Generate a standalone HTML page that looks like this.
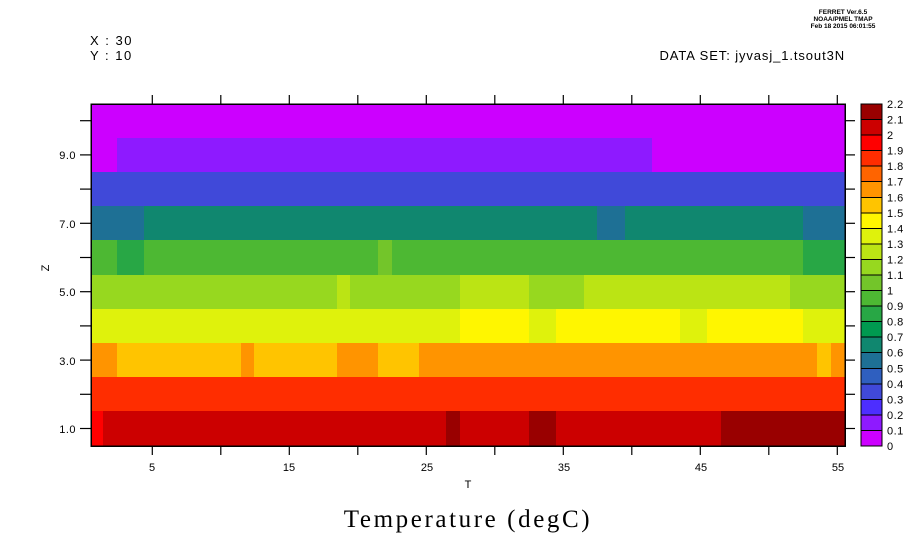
<!DOCTYPE html>
<html><head><meta charset="utf-8"><style>body{margin:0;background:#fff}svg{display:block}</style></head><body>
<svg width="921" height="552" xmlns="http://www.w3.org/2000/svg" font-family="Liberation Sans, sans-serif">
<rect width="921" height="552" fill="#fff"/>
<g shape-rendering="crispEdges">
<rect x="91" y="104" width="754" height="35" fill="#cc00ff"/>
<rect x="91" y="138" width="754" height="35" fill="#cc00ff"/>
<rect x="117" y="138" width="535" height="35" fill="#8e1aff"/>
<rect x="91" y="172" width="754" height="35" fill="#4049d9"/>
<rect x="91" y="206" width="754" height="35" fill="#10876f"/>
<rect x="91" y="206" width="53" height="35" fill="#1e7095"/>
<rect x="597" y="206" width="28" height="35" fill="#1e7095"/>
<rect x="803" y="206" width="42" height="35" fill="#1e7095"/>
<rect x="91" y="240" width="754" height="35" fill="#4db833"/>
<rect x="117" y="240" width="27" height="35" fill="#28a745"/>
<rect x="378" y="240" width="14" height="35" fill="#73c52a"/>
<rect x="803" y="240" width="42" height="35" fill="#28a745"/>
<rect x="91" y="275" width="754" height="35" fill="#97d81f"/>
<rect x="337" y="275" width="13" height="35" fill="#bbe414"/>
<rect x="460" y="275" width="69" height="35" fill="#bbe414"/>
<rect x="584" y="275" width="206" height="35" fill="#bbe414"/>
<rect x="91" y="309" width="754" height="35" fill="#dff20c"/>
<rect x="460" y="309" width="69" height="35" fill="#fff600"/>
<rect x="556" y="309" width="124" height="35" fill="#fff600"/>
<rect x="707" y="309" width="96" height="35" fill="#fff600"/>
<rect x="91" y="343" width="754" height="35" fill="#ff9400"/>
<rect x="117" y="343" width="124" height="35" fill="#ffc400"/>
<rect x="254" y="343" width="83" height="35" fill="#ffc400"/>
<rect x="378" y="343" width="41" height="35" fill="#ffc400"/>
<rect x="817" y="343" width="14" height="35" fill="#ffc400"/>
<rect x="91" y="377" width="754" height="35" fill="#ff2d00"/>
<rect x="91" y="411" width="754" height="35" fill="#cc0000"/>
<rect x="91" y="411" width="12" height="35" fill="#ff0000"/>
<rect x="446" y="411" width="14" height="35" fill="#990000"/>
<rect x="529" y="411" width="27" height="35" fill="#990000"/>
<rect x="721" y="411" width="124" height="35" fill="#990000"/>
<rect x="91" y="104" width="754" height="342" fill="none" stroke="#000" stroke-width="1.5"/>
</g>
<g stroke="#000" stroke-width="1.2" id="ticks"></g>
<g font-size="11" text-anchor="end" letter-spacing="0.5">
<text x="76" y="433">1.0</text><text x="76" y="365">3.0</text><text x="76" y="296">5.0</text><text x="76" y="228">7.0</text><text x="76" y="159">9.0</text>
</g>
<g font-size="11" text-anchor="middle">
<text x="152" y="471">5</text><text x="289" y="471">15</text><text x="427" y="471">25</text><text x="564" y="471">35</text><text x="701" y="471">45</text><text x="838" y="471">55</text>
<text x="468" y="488">T</text>
</g>
<text x="49" y="268" font-size="11" text-anchor="middle" transform="rotate(-90 49 268)">Z</text>
<text x="468" y="527" font-size="25" text-anchor="middle" letter-spacing="2.6" font-family="Liberation Serif, serif">Temperature (degC)</text>
<text x="90" y="45" font-size="13" letter-spacing="1.5">X : 30</text>
<text x="90" y="60" font-size="13" letter-spacing="1.5">Y : 10</text>
<text x="845" y="60" font-size="13" text-anchor="end" letter-spacing="0.9">DATA SET: jyvasj_1.tsout3N</text>
<g font-size="6.5" text-anchor="middle" font-weight="bold"><text x="843" y="14">FERRET  Ver.6.5</text><text x="843" y="21">NOAA/PMEL TMAP</text><text x="843" y="28">Feb 18 2015 06:01:55</text></g>
<g id="cb" shape-rendering="crispEdges"></g>
<g id="cbl" font-size="11"></g>
<script>
var ns="http://www.w3.org/2000/svg";
function el(p,t,a){var e=document.createElementNS(ns,t);for(var k in a)e.setAttribute(k,a[k]);document.getElementById(p).appendChild(e);return e;}
for(var z=1;z<=10;z++){var y=428.5-(z-1)*34.2;el("ticks","line",{x1:80,x2:91,y1:y,y2:y});el("ticks","line",{x1:845,x2:855,y1:y,y2:y});}
for(var i=0;i<11;i++){var x=152.3+68.5*i;el("ticks","line",{x1:x,x2:x,y1:95,y2:104});el("ticks","line",{x1:x,x2:x,y1:446,y2:455});}
var cols=["#cc00ff","#8e1aff","#4d2eff","#4049d9","#2f5fbf","#1e7095","#10876f","#009a50","#28a745","#4db833","#73c52a","#97d81f","#bbe414","#dff20c","#fff600","#ffc400","#ff9400","#ff6400","#ff2d00","#ff0000","#cc0000","#990000"];
var h=342/22;
for(var j=0;j<22;j++){var y0=446-(j+1)*h;el("cb","rect",{x:861,y:y0,width:21,height:h,fill:cols[j],stroke:"#000","stroke-width":1});}
var labs=["0","0.1","0.2","0.3","0.4","0.5","0.6","0.7","0.8","0.9","1","1.1","1.2","1.3","1.4","1.5","1.6","1.7","1.8","1.9","2","2.1","2.2"];
for(var j=0;j<23;j++){var t=el("cbl","text",{x:887,y:446-j*h+4,"letter-spacing":0.5});t.textContent=labs[j];}
</script>
</svg>
</body></html>
